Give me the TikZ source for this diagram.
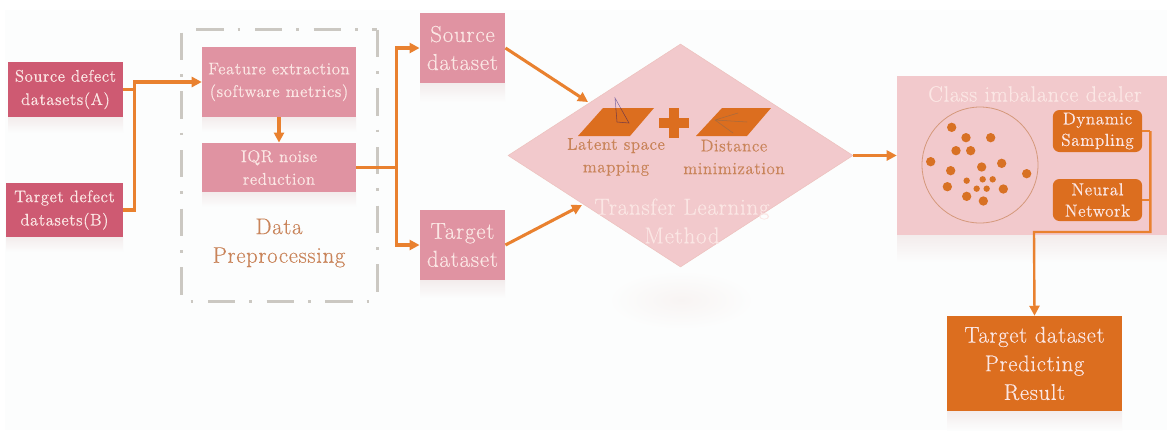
\documentclass[tikz,border=0pt]{standalone}
\usepackage{fontspec}
\setmainfont{Latin Modern Roman}[LetterSpace=3,FakeBold=0.35]
\usetikzlibrary{arrows.meta,shapes.geometric}
\definecolor{bgc}{HTML}{FCFDFD}
\definecolor{deep}{HTML}{CE5A72}
\definecolor{mid}{HTML}{E093A2}
\definecolor{pale}{HTML}{F2C9CC}
\definecolor{org}{HTML}{E9812F}
\definecolor{dorg}{HTML}{DC6E1F}
\definecolor{brn}{HTML}{C9845A}
\definecolor{lab}{HTML}{FBE6E4}
\definecolor{frame}{HTML}{CBC8C2}
\definecolor{shad}{HTML}{F3ECEC}
\definecolor{glow}{HTML}{F8F4F3}
\tikzset{
  boxbase/.style={rectangle,inner sep=0pt,align=center,text=lab},
  deepbox/.style={boxbase,fill=deep,font=\fontsize{12.6}{17.5}\selectfont,minimum width=86pt,minimum height=41pt},
  midbox/.style={boxbase,fill=mid,font=\fontsize{12.7}{17}\selectfont,minimum width=115.5pt},
  setbox/.style={boxbase,fill=mid,font=\fontsize{17.3}{21}\selectfont,minimum width=64pt,minimum height=52.5pt},
  palebox/.style={boxbase,fill=pale},
  orgbox/.style={boxbase,fill=dorg,rounded corners=5pt,font=\fontsize{13}{16}\selectfont,minimum width=67pt,minimum height=31.5pt},
  flow/.style={draw=org,line width=2.3pt,-{Triangle[length=7.5pt,width=7.5pt]}},
  plain/.style={draw=org,line width=2.3pt},
  softshadow/.style={top color=shad,bottom color=bgc,draw=none},
  lbl/.style={inner sep=0pt,align=center},
  dot/.style={fill=dorg!85!brown,draw=none},
  framepart/.style={draw=frame,line width=2.2pt}
}
\begin{document}
\begin{tikzpicture}[x=0.75pt,y=-0.75pt]
\useasboundingbox (0,0) rectangle (1167,437);
\fill[white] (0,0) rectangle (1167,437);
\fill[bgc] (5,10) rectangle (1167,430);
% soft shadows
\fill[softshadow] (8,117) rectangle (123,133);
\fill[softshadow] (6,237) rectangle (123,252);
\fill[softshadow] (202,117) rectangle (356,132);
\fill[softshadow] (202,192) rectangle (356,207);
\fill[softshadow] (420,83) rectangle (505,102);
\fill[softshadow] (420,280) rectangle (505,298);
\fill[softshadow] (897,235) rectangle (1167,262);
\fill[softshadow] (947,411) rectangle (1122,430);
\shade[inner color=glow,outer color=bgc,draw=none] (681,300) ellipse (55pt and 22pt);
% frame
\node[inner sep=0pt,minimum width=146.25pt,minimum height=203.25pt] (prep) at (279.5,165.5) {};
\draw[framepart,dash pattern=on 20.5pt off 10.5pt on 2pt off 11pt,dash phase=33pt] (prep.north west) -- (prep.north east);
\draw[framepart,dash pattern=on 20.5pt off 10.5pt on 2pt off 11pt,dash phase=0pt] (prep.north east) -- (prep.south east);
\draw[framepart,dash pattern=on 20.5pt off 10.5pt on 2pt off 11pt,dash phase=24.25pt] (prep.south west) -- (prep.south east);
\draw[framepart,dash pattern=on 20.5pt off 10.5pt on 2pt off 11pt,dash phase=41.75pt] (prep.north west) -- (prep.south west);
% nodes
\node[deepbox] (srcA) at (65.5,89.5) {Source defect\\datasets(A)};
\node[deepbox,minimum width=87.5pt] (tgtB) at (64.5,210) {Target defect\\datasets(B)};
\node[midbox,minimum height=52.5pt] (feat) at (279,82) {Feature extraction\\(software metrics)};
\node[midbox,minimum height=37pt] (iqr) at (279,167.5) {IQR noise\\reduction};
\node[setbox] (srcD) at (462.5,48) {Source\\dataset};
\node[setbox] (tgtD) at (462.5,245) {Target\\dataset};
\node[diamond,fill=pale,draw=pale!90!brown,inner sep=0pt,minimum width=258.75pt,minimum height=167.25pt] (tl) at (680.5,155.5) {};
\node[palebox,minimum width=202.5pt,minimum height=119.25pt] (cls) at (1032,155.5) {};
\node[draw=brn!70!pale,line width=.6pt,circle,minimum size=87pt,inner sep=0pt] (pool) at (980,165) {};
\node[orgbox] (dyn) at (1097.5,131) {Dynamic\\Sampling};
\node[orgbox] (nn) at (1097.5,200) {Neural\\Network};
\node[boxbase,fill=dorg,font=\fontsize{17}{21.5}\selectfont,minimum width=131.25pt,minimum height=71.25pt] (res) at (1034.5,363.5) {Target dataset\\Predicting\\Result};
% labels
\node[lbl,text=brn,font=\fontsize{17}{21.5}\selectfont] (dp) at (279,243) {Data\\Preprocessing};
\node[lbl,text=lab,font=\fontsize{16.6}{19}\selectfont] (clst) at (1035,94) {Class imbalance dealer};
\node[lbl,text=lab,font=\fontsize{17.3}{21.5}\selectfont] (tlt) at (682,221) {Transfer Learning\\Method};
\node[lbl,text=brn,font=\fontsize{12.8}{17}\selectfont] (lsm) at (616,157) {Latent space\\mapping};
\node[lbl,text=brn,font=\fontsize{12.8}{17}\selectfont] (dm) at (734,157) {Distance\\minimization};
% planes and plus
\fill[dorg] (578,136) -- (603,108) -- (654,108) -- (630,136) -- cycle;
\fill[dorg] (696,136) -- (722,108) -- (771,108) -- (747,136) -- cycle;
\fill[dorg] (669,108) rectangle (679,138);
\fill[dorg] (659,118) rectangle (689,128);
\draw[black!55!blue,opacity=.45,line width=.4pt] (615,98) -- (617,122) -- (629,123) -- cycle;
\draw[black!60,opacity=.45,line width=.4pt] (715,120) -- (747,122) (715,120) -- (733,133) (715,120) -- (738,113);
% dots
\foreach \x/\y in {275/202,318/233,392/233,288/272,332/272,212/305,272/332,365/321,425/310,500/341,262/380,430/387,320/409,370/423}
  \fill[dot] ({860+\x/3},{60+\y/3}) circle (3.5pt);
\foreach \x/\y in {320/362,368/358,398/358,350/386,380/386}
  \fill[dot] ({860+\x/3},{60+\y/3}) circle (2.4pt);
% connectors
\draw[plain] (srcA.east) -- ++(11,0);
\draw[flow] (tgtB.east) -- ++(11,0) |- (feat.west);
\draw[flow] (feat.south) -- (iqr.north);
\draw[plain] (iqr.east) -- ++(40,0) coordinate (fork);
\draw[flow] (fork) |- (srcD.west);
\draw[flow] (fork) |- (tgtD.west);
\coordinate (tlA) at (588,102);
\coordinate (tlB) at (582,205);
\draw[flow] (srcD.east) -- (tlA);
\draw[flow] (tgtD.east) -- (tlB);
\draw[flow] (tl.east) -- (cls.west);
\draw[plain,line width=1.8pt] (dyn.east) -- ++(8,0) coordinate (drop);
\draw[plain,line width=1.8pt] (nn.east) -- ++(8,0);
\coordinate (trunk) at (1034,232);
\draw[flow,line width=1.8pt] (drop) |- (trunk) -- (res.north);
\end{tikzpicture}
\end{document}
